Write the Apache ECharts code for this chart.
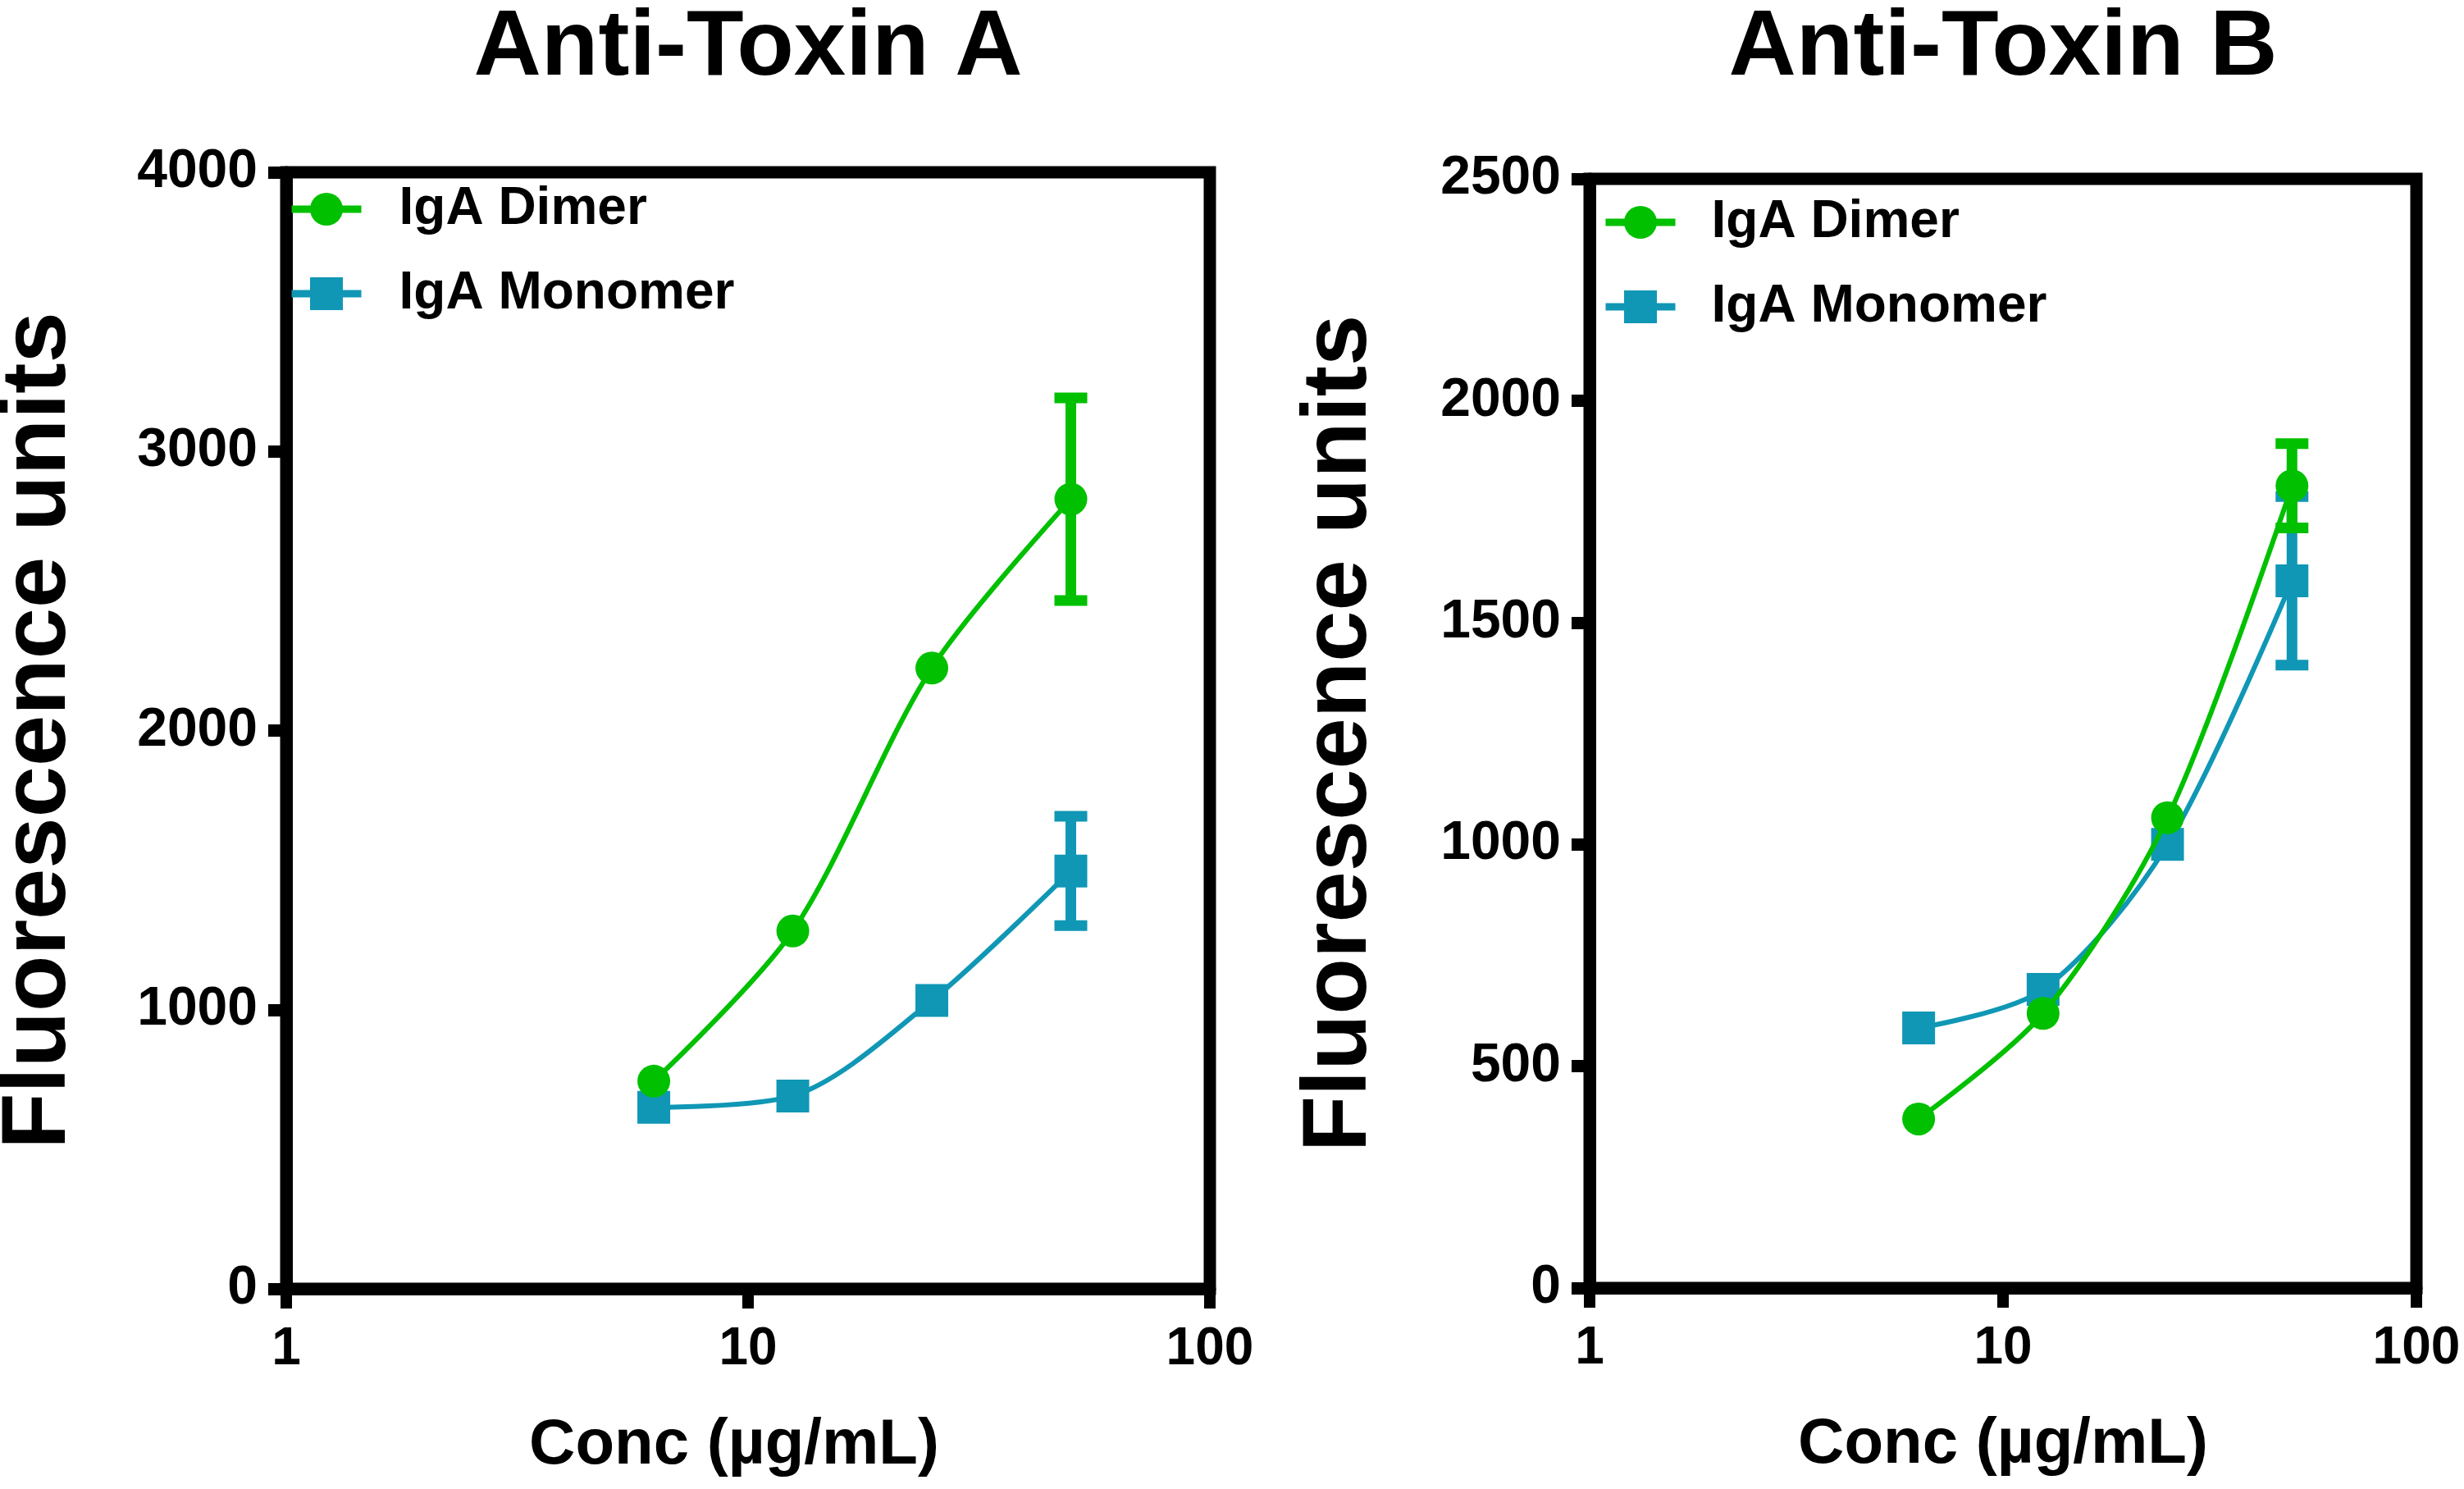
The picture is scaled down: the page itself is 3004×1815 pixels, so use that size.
<!DOCTYPE html>
<html><head><meta charset="utf-8">
<script src="https://cdn.jsdelivr.net/npm/echarts@6/dist/echarts.min.js"></script>
<style>html,body{margin:0;padding:0;background:#fff}#chart{width:3004px;height:1815px}</style>
</head><body><div id="chart"></div>
<script>
// ---- data ----
const conc = [6.25, 12.5, 25, 50];            // µg/mL
const dimerA = [744, 1282, 2224, 2829];
const monomerA = [650, 691, 1033, 1497];
const dimerAErr = [null, null, null, 363];
const monomerAErr = [null, null, null, 196];
const dimerB = [381, 619, 1060, 1808];
const monomerB = [586, 673, 1000, 1594];
const dimerBErr = [null, null, null, 95];
const monomerBErr = [null, null, null, 190];
const xTickLabels = ['1', '10', '100'];
const yMaxA = 4000, yStepA = 1000;
const yMaxB = 2500, yStepB = 500;
const titles = ['Anti-Toxin A', 'Anti-Toxin B'];
const seriesNames = ['IgA Dimer', 'IgA Monomer'];
const xName = 'Conc (µg/mL)';
const yName = 'Fluorescence units';

// ---- styling ----
const GREEN = '#00C000', BLUE = '#1097B5';
const FONT = '"Liberation Sans", Arial, Helvetica, sans-serif';
const AXW = 15;

function pts(vals) { return conc.map((c, i) => [c, vals[i]]); }
function errPts(vals, errs) {
  return conc.map((c, i) => errs[i] == null ? null : [c, vals[i], errs[i]]).filter(Boolean);
}
function errRender(color) {
  return function (params, api) {
    const x = api.value(0), y = api.value(1), e = api.value(2);
    const t = api.coord([x, y + e]), b = api.coord([x, y - e]);
    const h = 20;
    const style = { stroke: color, lineWidth: 13, lineCap: 'butt' };
    return { type: 'group', children: [
      { type: 'line', shape: { x1: t[0], y1: t[1], x2: b[0], y2: b[1] }, style },
      { type: 'line', shape: { x1: t[0] - h, y1: t[1], x2: t[0] + h, y2: t[1] }, style },
      { type: 'line', shape: { x1: b[0] - h, y1: b[1], x2: b[0] + h, y2: b[1] }, style }
    ]};
  };
}
function xAxisCfg(gi, namePad) {
  return {
    type: 'log', logBase: 10, min: 1, max: 100, gridIndex: gi,
    name: xName, nameLocation: 'middle', nameGap: 152,
    nameTextStyle: { fontFamily: FONT, fontWeight: 'bold', fontSize: 78, color: '#000', padding: namePad },
    axisLine: { show: true, lineStyle: { color: '#000', width: AXW } },
    axisTick: { show: true, length: 24, lineStyle: { color: '#000', width: 14 } },
    minorTick: { show: false }, splitLine: { show: false }, minorSplitLine: { show: false },
    axisLabel: { margin: 42, fontFamily: FONT, fontWeight: 'bold', fontSize: 64, color: '#000',
      formatter: v => xTickLabels.find(s => Number(s) === Math.round(v)) || '' }
  };
}
function yAxisCfg(gi, max, step, gap) {
  return {
    type: 'value', min: 0, max: max, interval: step, gridIndex: gi,
    name: yName, nameLocation: 'middle', nameGap: gap,
    nameTextStyle: { fontFamily: FONT, fontWeight: 'bold', fontSize: 112, color: '#000' },
    axisLine: { show: true, lineStyle: { color: '#000', width: AXW } },
    axisTick: { show: true, length: 22, lineStyle: { color: '#000', width: 15 } },
    splitLine: { show: false },
    axisLabel: { margin: 35, fontFamily: FONT, fontWeight: 'bold', fontSize: 66, color: '#000',
      formatter: v => String(v) }
  };
}
function lineSeries(name, gi, vals, color, symbol, z) {
  return {
    type: 'line', name: name, xAxisIndex: gi, yAxisIndex: gi, data: pts(vals),
    smooth: 0.3, symbol: symbol, symbolSize: 40, showSymbol: true, z: z,
    lineStyle: { color: color, width: 6 }, itemStyle: { color: color, opacity: 1 },
    emphasis: { disabled: true }
  };
}
function errSeries(name, gi, vals, errs, color, z) {
  return {
    type: 'custom', name: name + ' SEM', xAxisIndex: gi, yAxisIndex: gi,
    data: errPts(vals, errs), renderItem: errRender(color), z: z, silent: true
  };
}
function legendCfg(left, top, pad) {
  return {
    data: seriesNames, orient: 'vertical', left: left, top: top, padding: 0,
    itemWidth: 85, itemHeight: 50, itemGap: 39,
    lineStyle: { width: 9 },
    textStyle: { fontFamily: FONT, fontWeight: 'bold', fontSize: 64, color: '#000', lineHeight: 50, padding: [0, 0, 0, pad] }
  };
}

const chart = echarts.init(document.getElementById('chart'), null, { renderer: 'canvas' });
chart.setOption({
  backgroundColor: '#fff',
  animation: false,
  title: [
    { text: titles[0], left: 912, top: 3, padding: 0, textAlign: 'center',
      textStyle: { fontFamily: FONT, fontWeight: 'bold', fontSize: 114, color: '#000' } },
    { text: titles[1], left: 2442, top: 3, padding: 0, textAlign: 'center',
      textStyle: { fontFamily: FONT, fontWeight: 'bold', fontSize: 114, color: '#000' } }
  ],
  legend: [legendCfg(351, 223, 41), legendCfg(1953, 239, 39)],
  grid: [
    { left: 349, right: 3004 - 1475, top: 210, bottom: 1815 - 1571, containLabel: false, outerBoundsMode: 'none',
      show: true, borderColor: '#000', borderWidth: AXW, backgroundColor: 'transparent' },
    { left: 1938, right: 3004 - 2946, top: 218, bottom: 1815 - 1570, containLabel: false, outerBoundsMode: 'none',
      show: true, borderColor: '#000', borderWidth: AXW, backgroundColor: 'transparent' }
  ],
  xAxis: [xAxisCfg(0, [0, 34, 0, 0]), xAxisCfg(1, 0)],
  yAxis: [yAxisCfg(0, yMaxA, yStepA, 245), yAxisCfg(1, yMaxB, yStepB, 248)],
  series: [
    errSeries(seriesNames[1], 0, monomerA, monomerAErr, BLUE, 2),
    lineSeries(seriesNames[1], 0, monomerA, BLUE, 'rect', 3),
    errSeries(seriesNames[0], 0, dimerA, dimerAErr, GREEN, 4),
    lineSeries(seriesNames[0], 0, dimerA, GREEN, 'circle', 5),
    errSeries(seriesNames[1], 1, monomerB, monomerBErr, BLUE, 2),
    lineSeries(seriesNames[1], 1, monomerB, BLUE, 'rect', 3),
    errSeries(seriesNames[0], 1, dimerB, dimerBErr, GREEN, 4),
    lineSeries(seriesNames[0], 1, dimerB, GREEN, 'circle', 5)
  ]
});
</script>
</body></html>
